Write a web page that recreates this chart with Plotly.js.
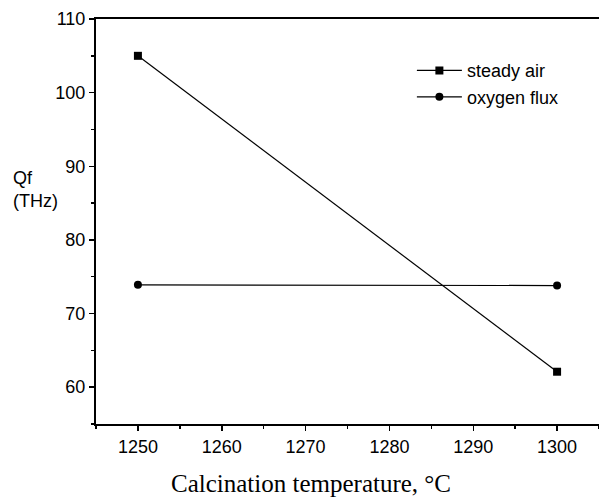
<!DOCTYPE html>
<html>
<head>
<meta charset="utf-8">
<script src="https://cdn.plot.ly/plotly-3.0.1.min.js"></script>
<style>html,body{margin:0;padding:0;background:#fff;}#chart{width:599px;height:499px;}</style>
</head>
<body>
<div id="chart"></div>
<script>
var temperatures = [1250, 1300];
var steadyAir = [105.0, 62.1];
var oxygenFlux = [73.9, 73.8];
var xTickVals = [1250, 1260, 1270, 1280, 1290, 1300];
var yTickVals = [60, 70, 80, 90, 100, 110];

var traces = [
  {
    x: temperatures, y: steadyAir, name: 'steady air',
    mode: 'lines+markers', type: 'scatter',
    line: {color: '#000', width: 1.2},
    marker: {symbol: 'square', size: 8, color: '#000'}
  },
  {
    x: temperatures, y: oxygenFlux, name: 'oxygen flux',
    mode: 'lines+markers', type: 'scatter',
    line: {color: '#000', width: 1.2},
    marker: {symbol: 'circle', size: 8, color: '#000'}
  }
];

var layout = {
  width: 599, height: 499,
  margin: {l: 96, r: 0, t: 19, b: 75},
  paper_bgcolor: '#fff', plot_bgcolor: '#fff',
  font: {family: 'Liberation Sans, Arial, sans-serif', size: 18, color: '#000'},
  showlegend: true,
  legend: {
    x: 0.628, y: 0.918, xanchor: 'left', yanchor: 'top',
    bgcolor: 'rgba(0,0,0,0)', borderwidth: 0, itemwidth: 45,
    font: {size: 18, color: '#000'}, tracegroupgap: 0
  },
  xaxis: {
    range: [1245, 1305], tickvals: xTickVals,
    showgrid: false, zeroline: false,
    showline: true, linecolor: '#000', linewidth: 2, mirror: true,
    ticks: 'outside', ticklen: 5, tickwidth: 1.5, tickcolor: '#000',
    minor: {dtick: 5, tick0: 1245, ticks: 'outside', ticklen: 3, tickwidth: 1.5, tickcolor: '#000', showgrid: false},
    tickfont: {size: 18}
  },
  yaxis: {
    range: [55, 110], tickvals: yTickVals,
    showgrid: false, zeroline: false,
    showline: true, linecolor: '#000', linewidth: 2,
    ticks: 'outside', ticklen: 5, tickwidth: 1.5, tickcolor: '#000',
    minor: {dtick: 5, tick0: 55, ticks: 'outside', ticklen: 3, tickwidth: 1.5, tickcolor: '#000', showgrid: false},
    tickfont: {size: 18}
  },
  annotations: [
    {
      text: 'Calcination temperature, °C', xref: 'paper', yref: 'paper',
      x: (311 - 96) / 503, y: -0.1457, xanchor: 'center', yanchor: 'middle',
      showarrow: false,
      font: {family: 'Liberation Serif, Times New Roman, serif', size: 25, color: '#000'}
    },
    {
      text: 'Qf<br>(THz)', xref: 'paper', yref: 'paper',
      x: -0.168, y: 0.58, xanchor: 'left', yanchor: 'middle', align: 'left',
      showarrow: false,
      font: {size: 18, color: '#000'}
    }
  ]
};

Plotly.newPlot('chart', traces, layout, {displayModeBar: false, staticPlot: true});
</script>
</body>
</html>
